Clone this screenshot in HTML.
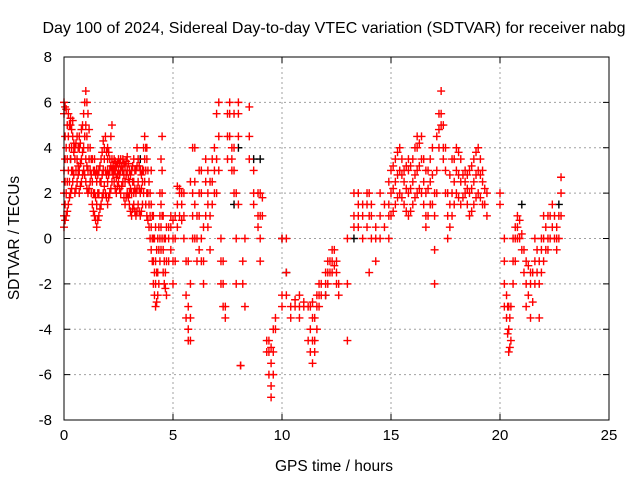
<!DOCTYPE html>
<html><head><meta charset="utf-8"><style>
body{margin:0;background:#fff;}
svg text{font-family:"Liberation Sans",sans-serif;fill:#000;}
</style></head><body>
<svg id="chart" width="640" height="480" xmlns="http://www.w3.org/2000/svg">
<text x="334" y="33" font-size="16" text-anchor="middle">Day 100 of 2024, Sidereal Day-to-day VTEC variation (SDTVAR) for receiver nabg</text>
<g id="grid"></g>
<g id="ticks"></g>
<g id="marks"></g>
<rect x="64" y="57" width="545" height="363" fill="none" stroke="#000" stroke-width="1"/>
<text transform="translate(19,238) rotate(-90)" font-size="15.5" text-anchor="middle">SDTVAR / TECUs</text>
<text x="334" y="471" font-size="15.5" text-anchor="middle">GPS time / hours</text>
</svg>
<script>
const xTicks=[0,5,10,15,20,25];
const yTicks=[-8,-6,-4,-2,0,2,4,6,8];
// rows: [hour, values...]
const redRows=[
[0.0,0.5,1,2,3,5.5,6],[0.1,1,2,4,5.7],[0.2,1.5,3,4.5,5.5],[0.3,2,3.5,5,5.3],[0.4,2.5,3,4.5,5.2],[0.5,2,3.5,4],[0.6,2.5,3.5,4.5],[0.7,2,3,4,4.5],[0.8,2.5,3.5,4.8],[0.9,3,4,5.5],
[1.0,2.5,3.5,5,6.5],[1.1,2,3,4,5.5],[1.2,2.5,3,4],[1.3,1.5,2.5,3.5],[1.4,1,2,3,3.5],[1.5,0.5,1.5,2.5,3],[1.6,1,2,3],[1.7,1.5,2.5,3.5],[1.8,2,3,4.3],[1.9,2,3,4.5],
[2.0,1.5,2.5,3,3.5,4],[2.1,2,3,3.5],[2.2,2.5,3,3.5,5],[2.3,2.5,3,3.5],[2.4,2,2.7,3.2],[2.5,2.5,3,3.5],[2.6,2,3,3.5],[2.7,2.5,3,3.5],[2.8,1.5,2.5,3.2],[2.9,2,3,3.6],
[3.0,1.5,2,2.5,3],[3.1,1,2,3],[3.2,1.5,2,2.5,3.5],[3.3,1,2,3],[3.4,1.5,2.5,3.5],[3.5,1,2,3],[3.6,1.5,2.5,3],[3.7,2.5,3.5,4.5],[3.8,1,2,3.5,4],[3.9,0.5,1.5,2.5],
[4.0,-0.5,0.5,1.5,3],[4.1,-2,-1,0,1],[4.2,-3,-2,-1,0.5],[4.3,-2.5,-1.5,0],[4.4,-1,0,1,2],[4.5,0,1,2,3,4.5],[4.6,-2,-1,0],[4.7,-2.5,-1,0.5],[4.8,-1,0,0.5],[4.9,-0.5,0.5,1],
[5.0,-2,-1,0,0.8],[5.1,-1,0,1],[5.2,0.5,1.5,2.3],[5.3,1,2,2.2],[5.4,0.8,1.5,2],[5.5,0,1,2],[5.6,-1,-2.5,-3.5],[5.7,-3,-4,-4.5,-1],[5.8,-2,-3.5,-4.5,2.5],[5.9,0,1,2,4],
[6.0,0,1.5,2.5,4],[6.1,-1,0,1],[6.2,-0.5,1,2,3],[6.3,-1,0,2,3],[6.4,-2,-1,0.5],[6.5,1,2.5,3.5],[6.6,0.5,1.5,2,3],[6.7,-0.5,1,2.5],[6.8,1.5,2.5,3.5],[6.9,2,3,4],
[7.0,2,3.5,5.5],[7.1,3,4.5,6],[7.2,-2,-1,0],[7.3,-3,-2,-1],[7.4,-3.5,-3],[7.5,3.5,4.5,5.5],[7.6,4.5,5.5,6],[7.7,3,3.5,4],[7.8,2,3,4,5.5],[7.9,2,-2,0],
[8.0,4.5,5.5,6,1.5],[8.1,-5.6,-5.6],[8.2,-2,-1],[8.3,0,-3],[8.5,5.8,4.5,3.5],[8.7,3,2,1.5],[8.9,2,1,0.5],[9.0,2,1,0,-1],[9.1,1,1.8],
[9.3,-4.5,-5],[9.4,-4.5,-5,-6],[9.5,-4.8,-5.5,-6.5,-7],[9.6,-4,-5,-6],[9.7,-3.5,-4],
[10.0,-3,-2.5,0],[10.2,0,-1.5,-2.5],[10.4,-3,-3.5],[10.6,-2.7,-3],[10.8,-3,-3.5,-2.5],[11.0,-2.8,-3],[11.2,-3,-4.5],[11.3,-3,-4,-5],[11.4,-2.8,-3.5,-4.5,-5.5],[11.5,-3.5,-4.5,-5],[11.6,-2.5,-3,-4],[11.7,-2,-2.5,-3],[11.8,-2,-2.5],
[12.0,-1.5,-2,-2.5],[12.1,-1,-1.5,-2],[12.2,-1,-1.5],[12.3,-0.5,-1,-1.5],[12.4,-0.5,-1.2],[12.5,-1,-1.5,-2],[12.6,-2,-2.5],[13.0,-4.5,-2,0],
[13.3,2,1,0.5],[13.5,0.5,1,1.5,2],[13.7,0,1,1.5],[13.9,0.5,1.5,2],[14.0,1,2,-1.5],[14.1,0,1,1.5],[14.3,-1,0,0.5],[14.5,0,1,2],[14.7,0.5,1.5],[14.9,0,1,1.5,2.5],
[15.0,1,2,3],[15.2,1.5,2.5,3.5],[15.4,2,3,4],[15.6,1.5,2.5,3],[15.8,1,2,3,3.5],[16.0,1.5,2.5,3.5],[16.2,2,3,4,4.5],[16.4,2,3.5,4.5],[16.6,0.5,1,2,3],[16.8,1.5,2.5,3.5],
[17.0,-0.5,-2,1,2],[17.1,2,3,4.5],[17.3,5,5.5,6.5],[17.4,3.5,4,5],[17.6,0,1,2],[17.8,1,2,3.5],[18.0,2,3,4],[18.2,1.5,2.5,3.5],[18.4,2,2.5,3],[18.6,1,2,3],[18.8,1.5,2.5,3.5],
[19.0,2,3,4],[19.2,1.5,2.5,3],[19.4,1,2],[20.0,2,1.5],[20.2,0,-1,-2,-3],[20.3,-2.5,-3.5],[20.4,-3,-4,-5],[20.5,-3,-4.5],[20.6,-2,-1,0],[20.8,0,0.5,1],
[21.0,-0.5,0.2],[21.2,-1,-2,-3],[21.4,-1.5,-2,-3.5],[21.6,-1,0,-2],[21.8,-2,-3.5,-1],[22.0,-1,0,1],[22.2,0,1,-0.5],[22.4,0.5,1.5],[22.6,-0.5,0,0.5],[22.8,1,2,2.7]
];
// additional readings between the rows above (dense regions)
const redRowsExtra=[
[0.05,0.8,1.5,2.5,3.5,4.5,5.8],[0.15,1.2,2.5,3.5,5],[0.25,1.8,2.5,4,5],[0.35,2.2,3,4,4.8],[0.45,2.8,3.8,4.2],[0.55,2.2,3,4.2],[0.65,2.8,3.2,4],[0.75,2.3,3.3,4.2],[0.85,2.8,3.8,5],[0.95,2.8,4.5,6],
[1.05,2.2,3.2,4.5,6],[1.15,2.2,3.5,4.8],[1.25,2,2.8,3.5],[1.35,1.2,2,3],[1.45,0.8,1.8,2.8],[1.55,0.8,2,2.8],[1.65,1.3,2.5,3.2],[1.75,1.8,2.8,3.8],[1.85,2.3,3.5,4],[1.95,1.8,2.8,3.8],
[2.05,1.8,2.8,3.8],[2.15,2.2,3.2,4.5],[2.25,2.8,3.2],[2.35,2.2,3,3.4],[2.45,2.3,2.8,3.3],[2.55,2.2,2.8,3.3],[2.65,2.3,3.2],[2.75,1.8,2.8,3.3],[2.85,1.8,2.8,3.4],[2.95,1.8,2.6,3.3],
[3.05,1.2,2.2,2.8],[3.15,1.3,2.5,3.2],[3.25,1.2,2.2,3],[3.35,1.2,2.2,3.2,4],[3.45,1.2,2.2,3.2],[3.55,1.2,2.2,2.8],[3.65,2,3,4],[3.75,1.5,3,4],[3.85,0.8,2,3],[3.95,0,1,2],
[4.05,-1,0,1],[4.15,-2.5,-1.5,0],[4.25,-2.8,-1.5,-0.5],[4.35,-2,-0.5,0.5],[4.45,-0.5,0.5,1.5,3.5],[4.55,-1.5,-0.5,1],[4.65,-2.2,-1.5,0],
[15.1,1.2,2.2,3.2],[15.3,1.8,2.8,3.8],[15.5,1.8,2.8,3.5],[15.7,1.2,2.2,3.2],[15.9,1.2,2.2,3.2],[16.1,1.8,2.8,4],[16.3,2.2,3.2,4.2],[16.5,1.5,2.5,3.5],[16.7,1,2.2,3],[16.9,1.5,2.8,4],
[17.2,4,4.8,5.5],[17.5,2,3,4],[17.7,0.5,1.5,2.8],[17.9,1.5,2.5,3.5],[18.1,1.8,2.8,3.8],[18.3,1.8,2.8],[18.5,1.5,2.2,2.8],[18.7,1.2,2.2,3.2],[18.9,1.8,2.8,3.8],[19.1,1.8,2.8,3.5],[19.3,1.5,2.2],
[20.35,-3,-4.2],[20.45,-3.5,-4.8],[20.7,-1,0,0.5],[20.9,0,0.8],[21.1,-0.5,-1.5],[21.3,-1.2,-2.5],[21.5,-1.5,-2.8],[21.7,-1.5,-0.5],[21.9,-1.5,-0.5,0],[22.1,-0.5,0.5],[22.3,0,1],[22.5,0,1],[22.7,0,1]
];
const blackRows=[[0.3,3.5],[2.7,3],[3.5,3.5],[7.8,1.5],[8.0,4],[8.7,3.5],[9.0,3.5],[10.0,0],[10.2,-1.5],[12.0,-2.5],[13.3,0],[21.0,1.5],[22.7,1.5]];

const X0=64,X1=609,Y0=420,Y1=57;
const xs=t=>X0+(t-0)/25*(X1-X0);
const ys=v=>Y0-(v+8)/16*(Y0-Y1);
const NS="http://www.w3.org/2000/svg";
const grid=document.getElementById('grid'),ticks=document.getElementById('ticks'),marks=document.getElementById('marks');
function mk(tag,attrs,parent){const e=document.createElementNS(NS,tag);for(const k in attrs)e.setAttribute(k,attrs[k]);parent.appendChild(e);return e;}
xTicks.forEach(t=>{const x=xs(t);
 if(t>0&&t<25){const l=mk('line',{x1:x,x2:x,y1:Y1,y2:Y0,stroke:'#a0a0a0','stroke-dasharray':'2,3'},grid);}
 mk('line',{x1:x,x2:x,y1:Y0,y2:Y0-6,stroke:'#000'},ticks);mk('line',{x1:x,x2:x,y1:Y1,y2:Y1+6,stroke:'#000'},ticks);
 const tx=mk('text',{x:x,y:Y0+20,'font-size':'15','text-anchor':'middle'},ticks);tx.textContent=t;
 });
yTicks.forEach(v=>{const y=ys(v);
 if(v>-8&&v<8){const l=mk('line',{x1:X0,x2:X1,y1:y,y2:y,stroke:'#a0a0a0','stroke-dasharray':'2,3'},grid);}
 mk('line',{x1:X0,x2:X0+6,y1:y,y2:y,stroke:'#000'},ticks);mk('line',{x1:X1,x2:X1-6,y1:y,y2:y,stroke:'#000'},ticks);
 const tx=mk('text',{x:X0-12,y:y+5,'font-size':'15','text-anchor':'end'},ticks);tx.textContent=v;
 });
function plus(t,v,color){const x=xs(t),y=ys(v);
 const p=mk('path',{d:`M${x-4},${y}H${x+4}M${x},${y-4}V${y+4}`,stroke:color,'stroke-width':'1.4',fill:'none'},marks);
 
 }
blackRows.forEach(r=>{for(let i=1;i<r.length;i++)plus(r[0],r[i],'#000');});
redRows.forEach(r=>{for(let i=1;i<r.length;i++)plus(r[0],r[i],'#ff0000');});
redRowsExtra.forEach(r=>{for(let i=1;i<r.length;i++)plus(r[0],r[i],'#ff0000');});
</script>
</body></html>
